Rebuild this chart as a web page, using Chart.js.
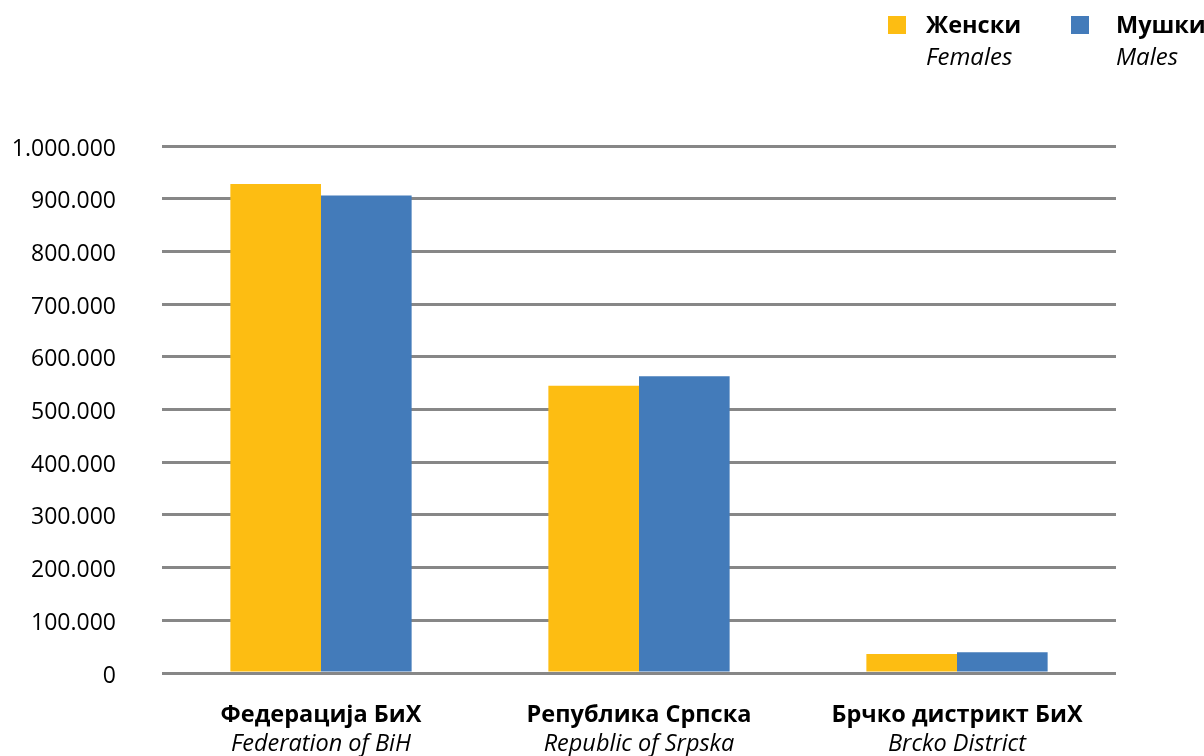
<!DOCTYPE html>
<html>
<head>
<meta charset="utf-8">
<script src="https://cdn.jsdelivr.net/npm/chart.js@4.4.1/dist/chart.umd.min.js"></script>
<style>
  html, body { margin: 0; padding: 0; background: #ffffff; }
  #wrap { width: 1204px; height: 756px; }
</style>
</head>
<body>
<div id="wrap"><canvas id="c" width="1204" height="756"></canvas></div>
<script>
// ---- data ----
const categoriesCyr = ['Федерација БиХ', 'Република Српска', 'Брчко дистрикт БиХ'];
const categoriesLat = ['Federation of BiH', 'Republic of Srpska', 'Brcko District'];
const seriesNamesCyr = ['Женски', 'Мушки'];
const seriesNamesLat = ['Females', 'Males'];
const females = [928000, 545000, 36000];
const males = [906000, 563000, 39500];
const yMax = 1000000;
const yStep = 100000;

const FONT = '"Open Sans", "Noto Sans", sans-serif';
const COLORS = ['#FDBD12', '#437BBA'];

function fmt(v) {
  return String(v).replace(/\B(?=(\d{3})+(?!\d))/g, '.');
}

const labelsPlugin = {
  id: 'labelsPlugin',
  afterDraw(chart) {
    const ctx = chart.ctx;
    const xs = chart.scales.x;
    const bottom = chart.chartArea.bottom;
    ctx.save();
    ctx.fillStyle = '#000000';
    ctx.textAlign = 'center';
    ctx.textBaseline = 'alphabetic';
    categoriesCyr.forEach((c, i) => {
      const x = xs.getPixelForValue(i);
      ctx.font = 'bold 23.5px ' + FONT;
      ctx.fillText(c, x, bottom + 49);
      ctx.font = 'italic 23.5px ' + FONT;
      ctx.fillText(categoriesLat[i], x, bottom + 78);
    });
    // legend
    const items = [
      { sx: 888, tx: 926 },
      { sx: 1071, tx: 1116 }
    ];
    chart.data.datasets.forEach((ds, i) => {
      const it = items[i];
      ctx.fillStyle = ds.backgroundColor;
      ctx.fillRect(it.sx, 16, 18, 18);
      ctx.fillStyle = '#000000';
      ctx.textAlign = 'left';
      ctx.font = 'bold 23.5px ' + FONT;
      ctx.fillText(seriesNamesCyr[i], it.tx, 33);
      ctx.font = 'italic 24px ' + FONT;
      ctx.fillText(seriesNamesLat[i], it.tx, 65);
    });
    ctx.restore();
  }
};

new Chart(document.getElementById('c'), {
  type: 'bar',
  data: {
    labels: categoriesCyr,
    datasets: [
      { label: seriesNamesCyr[0], data: females, backgroundColor: COLORS[0], borderWidth: 0 },
      { label: seriesNamesCyr[1], data: males, backgroundColor: COLORS[1], borderWidth: 0 }
    ]
  },
  options: {
    responsive: false,
    animation: false,
    devicePixelRatio: 1,
    layout: { padding: { left: 0, right: 88, top: 146, bottom: 83 } },
    categoryPercentage: 0.57,
    barPercentage: 1.0,
    plugins: {
      legend: { display: false },
      tooltip: { enabled: false },
      title: { display: false }
    },
    scales: {
      x: {
        ticks: { display: false },
        grid: { display: false, drawTicks: false },
        border: { display: false }
      },
      y: {
        min: 0,
        max: yMax,
        afterFit(scale) { scale.width = 162; },
        ticks: {
          stepSize: yStep,
          padding: 46,
          labelOffset: 3,
          color: '#000000',
          font: { family: FONT, size: 23 },
          callback: (v) => fmt(v)
        },
        grid: { color: '#878787', lineWidth: 3, drawTicks: false },
        border: { display: false }
      }
    }
  },
  plugins: [labelsPlugin]
});
</script>
</body>
</html>
